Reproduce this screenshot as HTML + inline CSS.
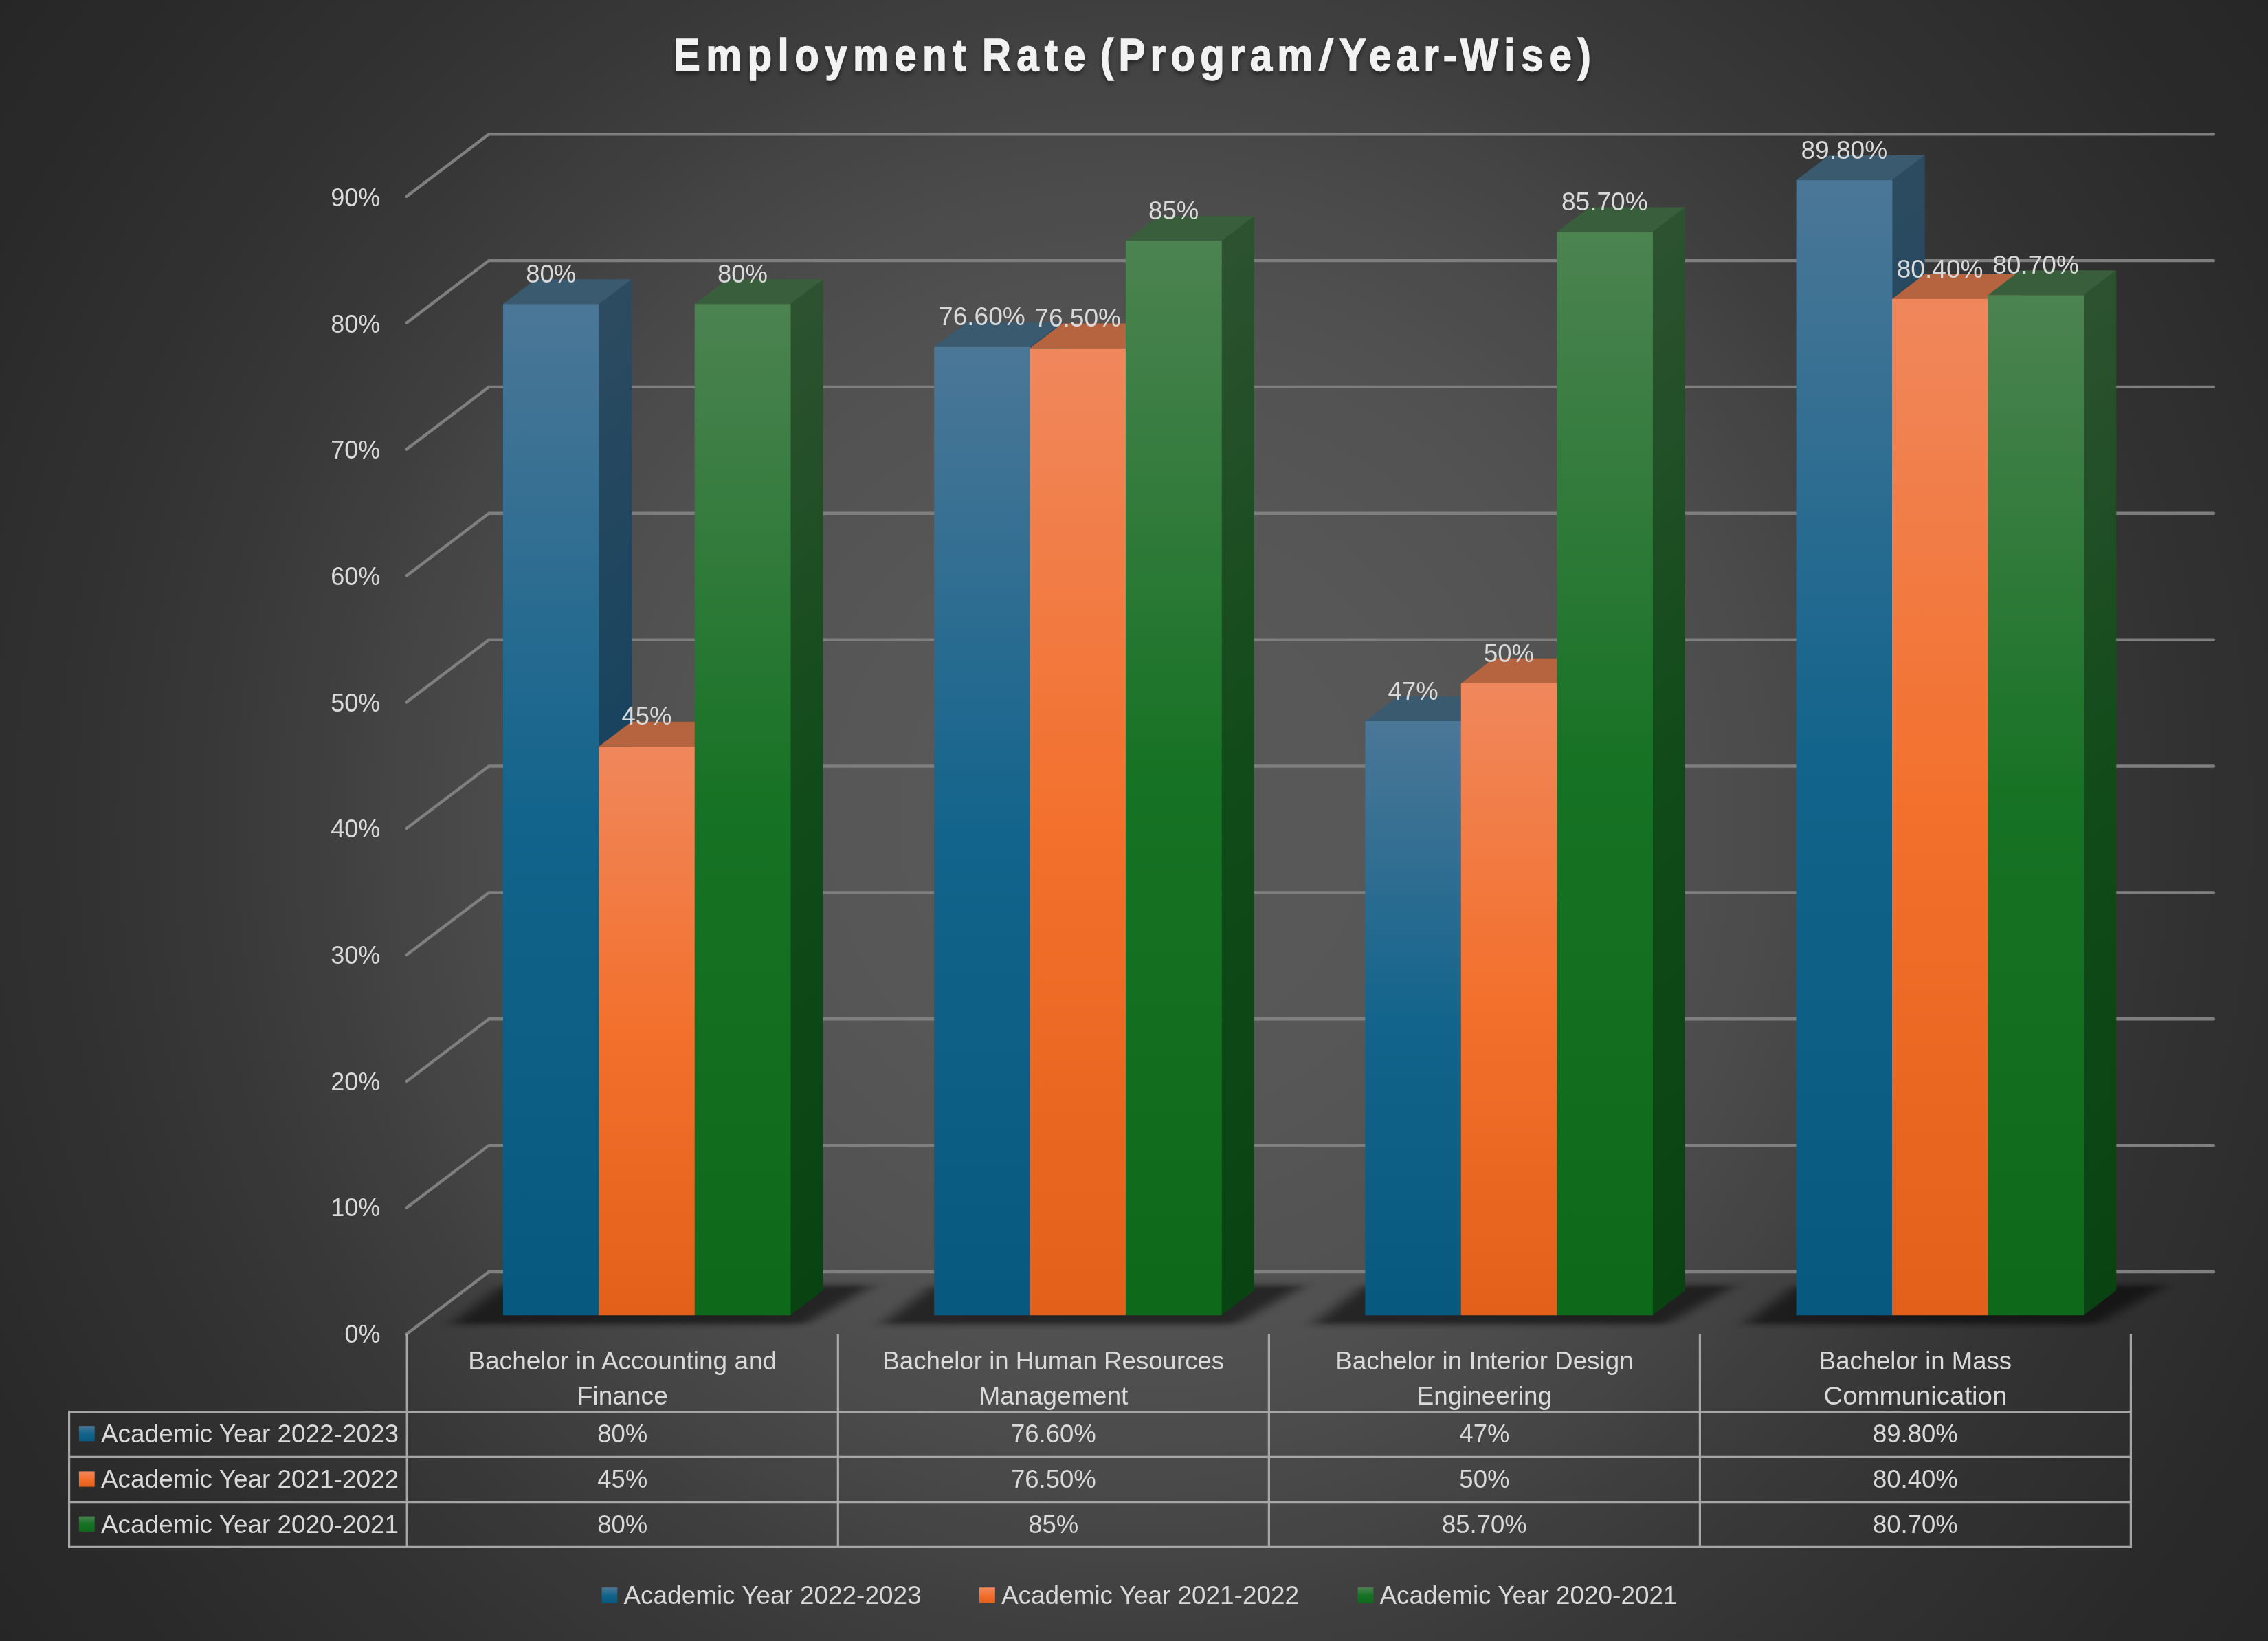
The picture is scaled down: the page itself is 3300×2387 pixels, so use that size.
<!DOCTYPE html>
<html><head><meta charset="utf-8"><title>Employment Rate (Program/Year-Wise)</title>
<style>html,body{margin:0;padding:0;background:#262626;}body{width:3300px;height:2387px;overflow:hidden;}svg{display:block;}text{font-family:"Liberation Sans",sans-serif;}</style>
</head><body>
<svg width="3300" height="2387" viewBox="0 0 3300 2387">
<defs>
<radialGradient id="bg" gradientUnits="userSpaceOnUse" cx="1650" cy="1193.5" r="2036"><stop offset="0" stop-color="#595959"/><stop offset="0.2" stop-color="#575757"/><stop offset="0.3" stop-color="#545454"/><stop offset="0.4" stop-color="#4f4f4f"/><stop offset="0.5" stop-color="#474747"/><stop offset="0.6" stop-color="#3d3d3d"/><stop offset="0.7" stop-color="#353535"/><stop offset="0.8" stop-color="#2f2f2f"/><stop offset="0.9" stop-color="#2a2a2a"/><stop offset="1.0" stop-color="#262626"/></radialGradient>
<linearGradient id="fB" x1="0" y1="0" x2="0" y2="1"><stop offset="0" stop-color="#4b7797"/><stop offset="0.5" stop-color="#13648c"/><stop offset="1" stop-color="#07597f"/></linearGradient>
<linearGradient id="fO" x1="0" y1="0" x2="0" y2="1"><stop offset="0" stop-color="#f0875c"/><stop offset="0.5" stop-color="#f3702c"/><stop offset="1" stop-color="#e3601b"/></linearGradient>
<linearGradient id="fG" x1="0" y1="0" x2="0" y2="1"><stop offset="0" stop-color="#4c8351"/><stop offset="0.5" stop-color="#167224"/><stop offset="1" stop-color="#0f691b"/></linearGradient>
<linearGradient id="sB" x1="0" y1="0" x2="0" y2="1"><stop offset="0" stop-color="#2c4b60"/><stop offset="0.5" stop-color="#16425e"/><stop offset="1" stop-color="#0b3b55"/></linearGradient>
<linearGradient id="sO" x1="0" y1="0" x2="0" y2="1"><stop offset="0" stop-color="#a0583a"/><stop offset="0.5" stop-color="#a04a1d"/><stop offset="1" stop-color="#974012"/></linearGradient>
<linearGradient id="sG" x1="0" y1="0" x2="0" y2="1"><stop offset="0" stop-color="#2d5230"/><stop offset="0.5" stop-color="#114b19"/><stop offset="1" stop-color="#0a4312"/></linearGradient>
<filter id="sh" x="-20%" y="-100%" width="140%" height="300%"><feGaussianBlur stdDeviation="13 3"/></filter>
<filter id="sh2" x="-20%" y="-100%" width="140%" height="300%"><feGaussianBlur stdDeviation="13 2"/></filter>
<filter id="ts" x="-5%" y="-30%" width="110%" height="180%"><feDropShadow dx="0" dy="4" stdDeviation="3" flood-color="#000" flood-opacity="0.45"/></filter>
</defs>
<rect width="3300" height="2387" fill="url(#bg)"/>
<g filter="url(#ts)" font-size="66.10" font-weight="700" fill="#f2f2f2" stroke="#f2f2f2" stroke-width="1.3">
<text transform="translate(980.00,102.65) scale(0.8800,1)" textLength="483.52" lengthAdjust="spacing">Employment</text>
<text transform="translate(1429.00,102.65) scale(0.8800,1)" textLength="171.02" lengthAdjust="spacing">Rate</text>
<text transform="translate(1601.00,102.65) scale(0.8800,1)" textLength="351.14" lengthAdjust="spacing">(Program</text>
<text transform="translate(1949.00,102.65) scale(0.8800,1)" textLength="164.77" lengthAdjust="spacing">Year</text>
<text transform="translate(2125.00,102.65) scale(0.8800,1)" textLength="215.91" lengthAdjust="spacing">Wise)</text>
<polygon stroke="none" points="1918.2,103.6 1927.0,103.6 1940.8,55.4 1932.2,55.4"/>
<rect stroke="none" x="2101.3" y="81.3" width="17.2" height="8.0"/>
</g>
<g fill="none" stroke="#7f7f7f" stroke-width="4.4" stroke-linecap="round" stroke-linejoin="miter">
<polyline points="591.6,285.8 711.3,195.2 3221.0,195.2"/>
<polyline points="591.6,469.7 711.3,379.1 3221.0,379.1"/>
<polyline points="591.6,653.5 711.3,562.9 3221.0,562.9"/>
<polyline points="591.6,837.4 711.3,746.8 3221.0,746.8"/>
<polyline points="591.6,1021.3 711.3,930.7 3221.0,930.7"/>
<polyline points="591.6,1205.1 711.3,1114.5 3221.0,1114.5"/>
<polyline points="591.6,1389.0 711.3,1298.4 3221.0,1298.4"/>
<polyline points="591.6,1572.9 711.3,1482.3 3221.0,1482.3"/>
<polyline points="591.6,1756.7 711.3,1666.1 3221.0,1666.1"/>
<polyline points="591.6,1940.6 711.3,1850.0 3221.0,1850.0"/>
</g>
<g font-size="37.5" fill="#d9d9d9" text-anchor="end" opacity="0.999">
<text x="553.4" y="299.9" textLength="72.1" lengthAdjust="spacingAndGlyphs">90%</text>
<text x="553.4" y="483.6" textLength="72.1" lengthAdjust="spacingAndGlyphs">80%</text>
<text x="553.4" y="667.2" textLength="72.1" lengthAdjust="spacingAndGlyphs">70%</text>
<text x="553.4" y="850.9" textLength="72.1" lengthAdjust="spacingAndGlyphs">60%</text>
<text x="553.4" y="1034.5" textLength="72.1" lengthAdjust="spacingAndGlyphs">50%</text>
<text x="553.4" y="1218.2" textLength="72.1" lengthAdjust="spacingAndGlyphs">40%</text>
<text x="553.4" y="1401.9" textLength="72.1" lengthAdjust="spacingAndGlyphs">30%</text>
<text x="553.4" y="1585.5" textLength="72.1" lengthAdjust="spacingAndGlyphs">20%</text>
<text x="553.4" y="1769.2" textLength="72.1" lengthAdjust="spacingAndGlyphs">10%</text>
<text x="553.4" y="1952.8" textLength="52.0" lengthAdjust="spacingAndGlyphs">0%</text>
</g>
<g filter="url(#sh2)" fill="#000" fill-opacity="0.08">
<polygon points="646.9,1932.2 1163.0,1932.2 1278.9,1864.1 736.8,1864.1"/>
<polygon points="1274.1,1932.2 1790.2,1932.2 1906.1,1864.1 1364.0,1864.1"/>
<polygon points="1901.3,1932.2 2417.4,1932.2 2533.3,1864.1 1991.2,1864.1"/>
<polygon points="2528.5,1932.2 3044.6,1932.2 3160.5,1864.1 2618.4,1864.1"/>
</g>
<g filter="url(#sh)" fill="#000" fill-opacity="0.50">
<polygon points="657.5,1925.7 1169.5,1925.7 1268.9,1870.1 730.9,1870.1"/>
<polygon points="1284.7,1925.7 1796.8,1925.7 1896.1,1870.1 1358.1,1870.1"/>
<polygon points="1911.9,1925.7 2423.9,1925.7 2523.3,1870.1 1985.3,1870.1"/>
<polygon points="2539.1,1925.7 3051.2,1925.7 3150.5,1870.1 2612.5,1870.1"/>
</g>
<rect fill="url(#sB)" transform="matrix(1 -0.7584 0 1 871.4 442.3)" x="0" y="0" width="47.6" height="1470.9"/>
<polygon fill="#3a5a70" points="732.0,442.3 779.6,406.2 919.0,406.2 871.4,442.3"/>
<rect fill="url(#fB)" x="732.0" y="442.3" width="139.8" height="1470.9"/>
<rect fill="url(#sO)" transform="matrix(1 -0.7584 0 1 1010.7 1085.8)" x="0" y="0" width="47.6" height="827.4"/>
<polygon fill="#b5643f" points="871.4,1085.8 919.0,1049.7 1058.3,1049.7 1010.7,1085.8"/>
<rect fill="url(#fO)" x="871.4" y="1085.8" width="139.8" height="827.4"/>
<rect fill="url(#sG)" transform="matrix(1 -0.7584 0 1 1150.0 442.3)" x="0" y="0" width="47.6" height="1470.9"/>
<polygon fill="#385e3b" points="1010.7,442.3 1058.3,406.2 1197.6,406.2 1150.0,442.3"/>
<rect fill="url(#fG)" x="1010.7" y="442.3" width="139.8" height="1470.9"/>
<rect fill="url(#sB)" transform="matrix(1 -0.7584 0 1 1498.5 504.8)" x="0" y="0" width="47.6" height="1408.4"/>
<polygon fill="#3a5a70" points="1359.2,504.8 1406.8,468.7 1546.1,468.7 1498.5,504.8"/>
<rect fill="url(#fB)" x="1359.2" y="504.8" width="139.8" height="1408.4"/>
<rect fill="url(#sO)" transform="matrix(1 -0.7584 0 1 1637.9 506.6)" x="0" y="0" width="47.6" height="1406.6"/>
<polygon fill="#b5643f" points="1498.5,506.6 1546.1,470.5 1685.5,470.5 1637.9,506.6"/>
<rect fill="url(#fO)" x="1498.5" y="506.6" width="139.8" height="1406.6"/>
<rect fill="url(#sG)" transform="matrix(1 -0.7584 0 1 1777.2 350.3)" x="0" y="0" width="47.6" height="1562.9"/>
<polygon fill="#385e3b" points="1637.9,350.3 1685.5,314.2 1824.8,314.2 1777.2,350.3"/>
<rect fill="url(#fG)" x="1637.9" y="350.3" width="139.8" height="1562.9"/>
<rect fill="url(#sB)" transform="matrix(1 -0.7584 0 1 2125.8 1049.0)" x="0" y="0" width="47.6" height="864.2"/>
<polygon fill="#3a5a70" points="1986.4,1049.0 2034.0,1012.9 2173.3,1012.9 2125.8,1049.0"/>
<rect fill="url(#fB)" x="1986.4" y="1049.0" width="139.8" height="864.2"/>
<rect fill="url(#sO)" transform="matrix(1 -0.7584 0 1 2265.1 993.9)" x="0" y="0" width="47.6" height="919.3"/>
<polygon fill="#b5643f" points="2125.8,993.9 2173.3,957.8 2312.7,957.8 2265.1,993.9"/>
<rect fill="url(#fO)" x="2125.8" y="993.9" width="139.8" height="919.3"/>
<rect fill="url(#sG)" transform="matrix(1 -0.7584 0 1 2404.4 337.5)" x="0" y="0" width="47.6" height="1575.7"/>
<polygon fill="#385e3b" points="2265.1,337.5 2312.7,301.4 2452.0,301.4 2404.4,337.5"/>
<rect fill="url(#fG)" x="2265.1" y="337.5" width="139.8" height="1575.7"/>
<rect fill="url(#sB)" transform="matrix(1 -0.7584 0 1 2753.0 262.1)" x="0" y="0" width="47.6" height="1651.1"/>
<polygon fill="#3a5a70" points="2613.6,262.1 2661.2,226.0 2800.6,226.0 2753.0,262.1"/>
<rect fill="url(#fB)" x="2613.6" y="262.1" width="139.8" height="1651.1"/>
<rect fill="url(#sO)" transform="matrix(1 -0.7584 0 1 2892.3 434.9)" x="0" y="0" width="47.6" height="1478.3"/>
<polygon fill="#b5643f" points="2753.0,434.9 2800.6,398.8 2939.9,398.8 2892.3,434.9"/>
<rect fill="url(#fO)" x="2753.0" y="434.9" width="139.8" height="1478.3"/>
<rect fill="url(#sG)" transform="matrix(1 -0.7584 0 1 3031.7 429.4)" x="0" y="0" width="47.6" height="1483.8"/>
<polygon fill="#385e3b" points="2892.3,429.4 2939.9,393.3 3079.2,393.3 3031.7,429.4"/>
<rect fill="url(#fG)" x="2892.3" y="429.4" width="139.8" height="1483.8"/>
<g font-size="37.5" fill="#d9d9d9" text-anchor="middle" opacity="0.999">
<text x="801.7" y="410.9" textLength="73.0" lengthAdjust="spacingAndGlyphs">80%</text>
<text x="941.0" y="1054.4" textLength="73.0" lengthAdjust="spacingAndGlyphs">45%</text>
<text x="1080.4" y="410.9" textLength="73.0" lengthAdjust="spacingAndGlyphs">80%</text>
<text x="1428.9" y="473.4" textLength="125.7" lengthAdjust="spacingAndGlyphs">76.60%</text>
<text x="1568.2" y="475.2" textLength="125.7" lengthAdjust="spacingAndGlyphs">76.50%</text>
<text x="1707.6" y="318.9" textLength="73.0" lengthAdjust="spacingAndGlyphs">85%</text>
<text x="2056.1" y="1017.6" textLength="73.0" lengthAdjust="spacingAndGlyphs">47%</text>
<text x="2195.4" y="962.5" textLength="73.0" lengthAdjust="spacingAndGlyphs">50%</text>
<text x="2334.8" y="306.1" textLength="125.7" lengthAdjust="spacingAndGlyphs">85.70%</text>
<text x="2683.3" y="230.7" textLength="125.7" lengthAdjust="spacingAndGlyphs">89.80%</text>
<text x="2822.6" y="403.5" textLength="125.7" lengthAdjust="spacingAndGlyphs">80.40%</text>
<text x="2962.0" y="398.0" textLength="125.7" lengthAdjust="spacingAndGlyphs">80.70%</text>
</g>
<g fill="none" stroke="#a6a6a6" stroke-width="3.2" stroke-linecap="square">
<line x1="592.2" y1="1941.5" x2="592.2" y2="2250.3"/>
<line x1="1219.3" y1="1941.5" x2="1219.3" y2="2250.3"/>
<line x1="1846.4" y1="1941.5" x2="1846.4" y2="2250.3"/>
<line x1="2473.4" y1="1941.5" x2="2473.4" y2="2250.3"/>
<line x1="3100.4" y1="1941.5" x2="3100.4" y2="2250.3"/>
<line x1="100.6" y1="2053.5" x2="100.6" y2="2250.3"/>
<line x1="100.6" y1="2053.5" x2="3100.4" y2="2053.5"/>
<line x1="100.6" y1="2119.4" x2="3100.4" y2="2119.4"/>
<line x1="100.6" y1="2184.6" x2="3100.4" y2="2184.6"/>
<line x1="100.6" y1="2250.3" x2="3100.4" y2="2250.3"/>
</g>
<g font-size="36.5" fill="#d9d9d9" text-anchor="middle" opacity="0.999">
<text x="905.8" y="1991.8" textLength="449.0" lengthAdjust="spacingAndGlyphs">Bachelor in Accounting and</text>
<text x="905.8" y="2042.5" textLength="132.0" lengthAdjust="spacingAndGlyphs">Finance</text>
<text x="1532.8" y="1991.8" textLength="496.8" lengthAdjust="spacingAndGlyphs">Bachelor in Human Resources</text>
<text x="1532.8" y="2042.5" textLength="217.3" lengthAdjust="spacingAndGlyphs">Management</text>
<text x="2159.9" y="1991.8" textLength="433.4" lengthAdjust="spacingAndGlyphs">Bachelor in Interior Design</text>
<text x="2159.9" y="2042.5" textLength="196.2" lengthAdjust="spacingAndGlyphs">Engineering</text>
<text x="2786.9" y="1991.8" textLength="280.3" lengthAdjust="spacingAndGlyphs">Bachelor in Mass</text>
<text x="2786.9" y="2042.5" textLength="266.9" lengthAdjust="spacingAndGlyphs">Communication</text>
<text x="905.8" y="2098.0">80%</text>
<text x="1532.8" y="2098.0">76.60%</text>
<text x="2159.9" y="2098.0">47%</text>
<text x="2786.9" y="2098.0">89.80%</text>
<text x="905.8" y="2164.2">45%</text>
<text x="1532.8" y="2164.2">76.50%</text>
<text x="2159.9" y="2164.2">50%</text>
<text x="2786.9" y="2164.2">80.40%</text>
<text x="905.8" y="2229.5">80%</text>
<text x="1532.8" y="2229.5">85%</text>
<text x="2159.9" y="2229.5">85.70%</text>
<text x="2786.9" y="2229.5">80.70%</text>
</g>
<g font-size="36.5" fill="#d9d9d9" opacity="0.999">
<rect x="114.9" y="2074.2" width="22.8" height="22.2" fill="url(#fB)"/>
<text x="147.0" y="2098.0" textLength="433.0" lengthAdjust="spacingAndGlyphs">Academic Year 2022-2023</text>
<rect x="114.9" y="2140.4" width="22.8" height="22.2" fill="url(#fO)"/>
<text x="147.0" y="2164.2" textLength="433.0" lengthAdjust="spacingAndGlyphs">Academic Year 2021-2022</text>
<rect x="114.9" y="2205.7" width="22.8" height="22.2" fill="url(#fG)"/>
<text x="147.0" y="2229.5" textLength="433.0" lengthAdjust="spacingAndGlyphs">Academic Year 2020-2021</text>
<rect x="875.5" y="2309.2" width="22.8" height="22.6" fill="url(#fB)"/>
<text x="907.5" y="2333.2" textLength="433.0" lengthAdjust="spacingAndGlyphs">Academic Year 2022-2023</text>
<rect x="1425.0" y="2309.2" width="22.8" height="22.6" fill="url(#fO)"/>
<text x="1457.0" y="2333.2" textLength="433.0" lengthAdjust="spacingAndGlyphs">Academic Year 2021-2022</text>
<rect x="1975.5" y="2309.2" width="22.8" height="22.6" fill="url(#fG)"/>
<text x="2007.5" y="2333.2" textLength="433.0" lengthAdjust="spacingAndGlyphs">Academic Year 2020-2021</text>
</g>
</svg></body></html>
